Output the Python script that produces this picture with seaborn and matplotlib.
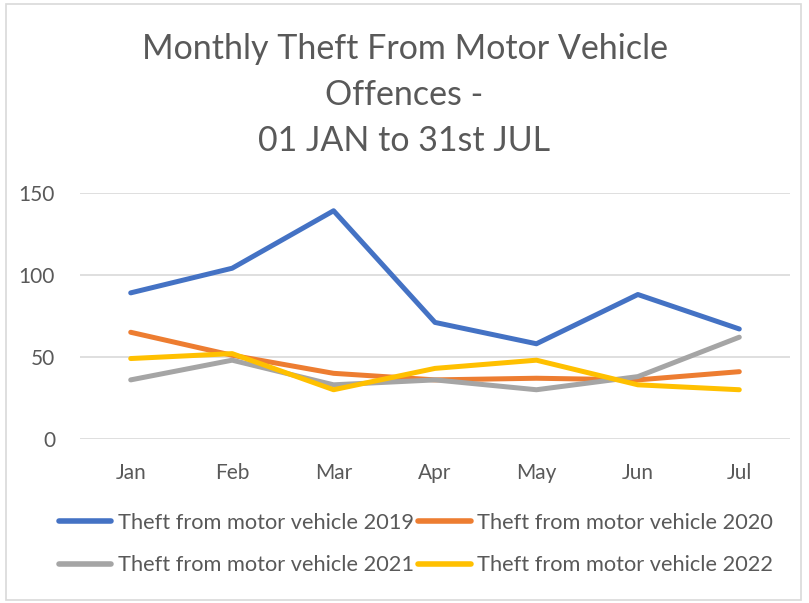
import pandas as pd
import matplotlib.pyplot as plt
import seaborn as sns
from matplotlib.patches import Rectangle

# Monthly counts
months = ['Jan', 'Feb', 'Mar', 'Apr', 'May', 'Jun', 'Jul']
theft_2019 = [89, 104, 139, 71, 58, 88, 67]
theft_2020 = [65, 51, 40, 36, 37, 36, 41]
theft_2021 = [36, 48, 33, 36, 30, 38, 62]
theft_2022 = [49, 52, 30, 43, 48, 33, 30]

series_names = ['Theft from motor vehicle 2019', 'Theft from motor vehicle 2020',
                'Theft from motor vehicle 2021', 'Theft from motor vehicle 2022']
series_colors = ['#4472C4', '#ED7D31', '#A5A5A5', '#FFC000']

rows = []
for name, vals in zip(series_names, [theft_2019, theft_2020, theft_2021, theft_2022]):
    for m, v in zip(months, vals):
        rows.append({'Month': m, 'Offences': v, 'Series': name})
df = pd.DataFrame(rows)

sns.set_style('white')
plt.rcParams['font.family'] = ['Lato', 'DejaVu Sans']
text_color = '#595959'

fig = plt.figure(figsize=(8.09, 6.03), dpi=100)
ax = fig.add_axes([80 / 809, 1 - 439 / 603, 710 / 809, 246.3 / 603])

sns.lineplot(data=df, x='Month', y='Offences', hue='Series', palette=series_colors,
             sort=False, linewidth=3.6, ax=ax, legend=True)
for line in ax.lines:
    line.set_solid_capstyle('round')
    line.set_solid_joinstyle('round')

ax.set_xlim(-0.5, 6.5)
ax.set_ylim(0, 150)
ax.set_yticks([0, 50, 100, 150])
ax.yaxis.grid(True, color='#D9D9D9', linewidth=1.2)
ax.set_axisbelow(True)
for s in ax.spines.values():
    s.set_visible(False)
ax.set_xlabel('')
ax.set_ylabel('')
ax.tick_params(axis='both', length=0, labelsize=15, labelcolor=text_color)
ax.tick_params(axis='x', pad=17)
ax.tick_params(axis='y', pad=18)

# legend in two rows: 2019, 2020 / 2021, 2022
handles, labels = ax.get_legend_handles_labels()
order = [0, 2, 1, 3]
ax.get_legend().remove()
leg = fig.legend([handles[i] for i in order], [labels[i] for i in order],
                 ncol=2, loc='center', bbox_to_anchor=(416 / 809, 1 - 544 / 603),
                 frameon=False, fontsize=15.7, handlelength=2.4, handletextpad=0.3,
                 columnspacing=0.2, labelspacing=1.05)
for t in leg.get_texts():
    t.set_color(text_color)
for h in leg.get_lines():
    h.set_linewidth(4)
    h.set_solid_capstyle('round')

fig.text(0.5, 1 - 95 / 603, 'Monthly Theft From Motor Vehicle\nOffences -\n01 JAN to 31st JUL',
         ha='center', va='center', fontsize=24.5, color=text_color, linespacing=1.52)

# chart border
fig.patches.append(Rectangle((6 / 809, 3 / 603), 795 / 809, 596 / 603, transform=fig.transFigure,
                             fill=False, edgecolor='#D9D9D9', linewidth=1.2))

fig.savefig('out.png', dpi=100)
